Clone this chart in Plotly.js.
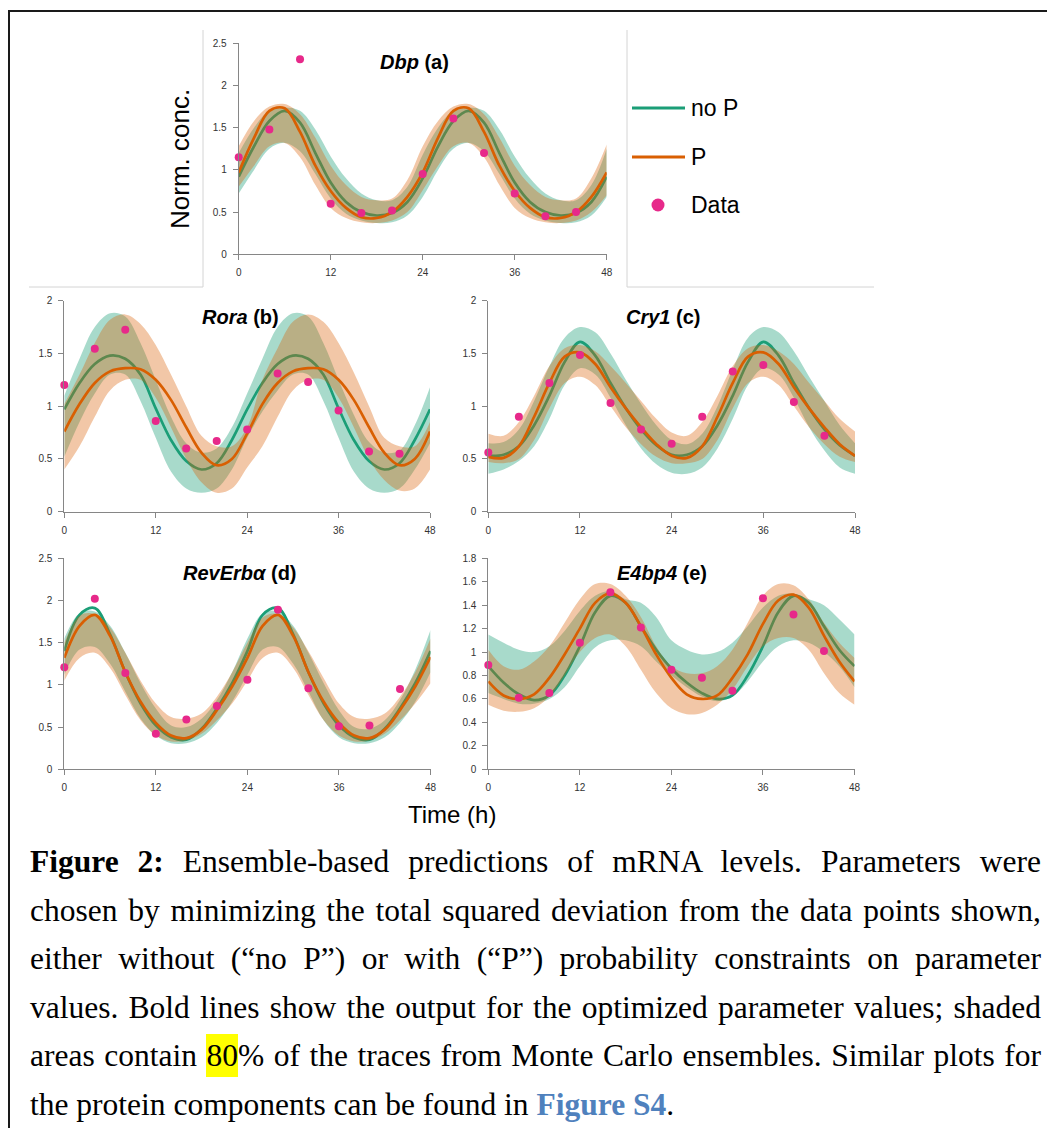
<!DOCTYPE html>
<html>
<head>
<meta charset="utf-8">
<script src="https://cdn.plot.ly/plotly-3.0.1.min.js"></script>
<style>
html,body{margin:0;padding:0;background:#fff;}
#chart{position:absolute;left:0;top:0;width:1047px;height:1128px;}
#cap{position:absolute;left:30px;top:838px;width:1011px;font-family:'Liberation Serif','Times New Roman',serif;font-size:31.5px;line-height:48.5px;color:#000;z-index:5;}
#cap .j{text-align:justify;text-align-last:justify;}
#cap .hl{background:#ffff00;padding:4px 0;}
#cap .lnk{color:#4f81bd;font-weight:bold;}
</style>
</head>
<body>
<div id="chart"></div>
<div id="cap">
<div class="j"><b>Figure 2:</b> Ensemble-based predictions of mRNA levels. Parameters were</div>
<div class="j">chosen by minimizing the total squared deviation from the data points shown,</div>
<div class="j">either without (“no P”) or with (“P”) probability constraints on parameter</div>
<div class="j">values. Bold lines show the output for the optimized parameter values; shaded</div>
<div class="j">areas contain <span class="hl">80</span>% of the traces from Monte Carlo ensembles. Similar plots for</div>
<div>the protein components can be found in <span class="lnk">Figure S4</span>.</div>
</div>
<script>
// ---------- data ----------
const T = [0,2,4,6,8,10,12,14,16,18,20,22,24,26,28,30,32,34,36,38,40,42,44,46,48];
const T_DATA = [0,4,8,12,16,20,24,28,32,36,40,44];
const X_TICKS = [0,12,24,36,48];

// Dbp (a)
const dbp_data = [1.15,1.48,2.31,0.60,0.49,0.52,0.95,1.61,1.20,0.72,0.45,0.50];
const dbp_noP = [0.92,1.28,1.58,1.70,1.56,1.20,0.85,0.62,0.50,0.46,0.49,0.62,0.90,1.28,1.58,1.70,1.56,1.20,0.85,0.62,0.50,0.46,0.49,0.62,0.92];
const dbp_P = [0.97,1.38,1.70,1.73,1.45,1.05,0.75,0.55,0.44,0.43,0.50,0.68,0.97,1.38,1.70,1.73,1.45,1.05,0.75,0.55,0.44,0.43,0.50,0.68,0.97];
const dbp_noP_hi = [1.20,1.50,1.70,1.74,1.70,1.48,1.16,0.90,0.72,0.64,0.64,0.80,1.18,1.50,1.70,1.74,1.70,1.48,1.16,0.90,0.72,0.64,0.64,0.82,1.25];
const dbp_noP_lo = [0.72,1.00,1.25,1.32,1.22,0.95,0.66,0.48,0.40,0.37,0.38,0.46,0.68,1.00,1.25,1.32,1.22,0.95,0.66,0.48,0.40,0.37,0.38,0.46,0.68];
const dbp_P_hi = [1.28,1.58,1.75,1.78,1.66,1.38,1.05,0.82,0.68,0.64,0.66,0.88,1.28,1.58,1.75,1.78,1.66,1.38,1.05,0.82,0.68,0.64,0.66,0.90,1.30];
const dbp_P_lo = [0.80,1.05,1.28,1.32,1.15,0.82,0.55,0.43,0.38,0.37,0.40,0.50,0.76,1.05,1.28,1.32,1.15,0.82,0.55,0.43,0.38,0.37,0.40,0.50,0.70];

// Rora (b)
const rora_data = [1.20,1.545,1.725,0.86,0.60,0.67,0.78,1.31,1.23,0.96,0.57,0.55];
const rora_noP = [0.97,1.22,1.40,1.48,1.45,1.30,0.98,0.68,0.48,0.40,0.46,0.68,0.97,1.22,1.40,1.48,1.45,1.30,0.98,0.68,0.48,0.40,0.46,0.68,0.97];
const rora_P = [0.76,1.02,1.22,1.33,1.36,1.35,1.25,1.06,0.80,0.56,0.44,0.50,0.74,1.02,1.22,1.33,1.36,1.35,1.25,1.06,0.80,0.56,0.44,0.50,0.76];
const rora_noP_hi = [1.10,1.45,1.75,1.88,1.85,1.60,1.25,0.90,0.65,0.56,0.60,0.80,1.12,1.45,1.75,1.88,1.85,1.60,1.25,0.92,0.66,0.56,0.58,0.82,1.18];
const rora_noP_lo = [0.52,0.85,1.12,1.30,1.30,1.05,0.70,0.38,0.22,0.18,0.22,0.40,0.70,0.95,1.15,1.30,1.30,1.05,0.70,0.38,0.22,0.18,0.22,0.40,0.65];
const rora_P_hi = [1.02,1.30,1.60,1.82,1.87,1.78,1.58,1.30,1.00,0.72,0.62,0.62,0.80,1.25,1.55,1.80,1.87,1.80,1.60,1.32,1.00,0.70,0.62,0.62,0.85];
const rora_P_lo = [0.40,0.62,0.90,1.15,1.25,1.25,1.08,0.80,0.50,0.28,0.18,0.22,0.42,0.62,0.90,1.15,1.25,1.25,1.08,0.80,0.50,0.30,0.20,0.22,0.40];

// Cry1 (c)
const cry_data = [0.56,0.90,1.22,1.485,1.03,0.78,0.645,0.90,1.33,1.39,1.04,0.72];
const cry_noP = [0.53,0.54,0.62,0.82,1.10,1.42,1.61,1.48,1.22,0.98,0.78,0.63,0.54,0.54,0.62,0.82,1.10,1.42,1.61,1.48,1.22,0.98,0.78,0.63,0.53];
const cry_P = [0.52,0.51,0.62,0.90,1.22,1.47,1.51,1.40,1.18,0.98,0.80,0.64,0.53,0.51,0.62,0.90,1.22,1.47,1.51,1.40,1.18,0.98,0.80,0.64,0.53];
const cry_noP_hi = [0.65,0.66,0.78,1.05,1.38,1.65,1.75,1.70,1.50,1.25,1.02,0.82,0.68,0.64,0.74,1.00,1.35,1.65,1.75,1.70,1.52,1.28,1.05,0.82,0.65];
const cry_noP_lo = [0.36,0.40,0.48,0.62,0.88,1.20,1.36,1.30,1.08,0.82,0.60,0.45,0.37,0.36,0.42,0.60,0.88,1.20,1.36,1.30,1.08,0.80,0.58,0.42,0.36];
const cry_P_hi = [0.74,0.72,0.85,1.10,1.38,1.55,1.58,1.52,1.38,1.22,1.05,0.88,0.75,0.72,0.85,1.10,1.38,1.55,1.58,1.52,1.40,1.22,1.05,0.88,0.76];
const cry_P_lo = [0.47,0.46,0.50,0.68,0.98,1.22,1.28,1.20,1.00,0.80,0.64,0.52,0.46,0.46,0.50,0.68,0.98,1.22,1.28,1.20,1.00,0.80,0.64,0.52,0.47];

// RevErbα (d)
const rev_data = [1.21,2.02,1.14,0.42,0.59,0.75,1.06,1.89,0.96,0.51,0.52,0.95];
const rev_noP = [1.40,1.83,1.91,1.60,1.15,0.78,0.52,0.38,0.35,0.48,0.72,1.02,1.40,1.83,1.91,1.60,1.15,0.78,0.52,0.38,0.35,0.48,0.72,1.02,1.40];
const rev_P = [1.32,1.70,1.83,1.58,1.15,0.80,0.55,0.40,0.37,0.47,0.70,0.98,1.32,1.70,1.83,1.58,1.15,0.80,0.55,0.40,0.37,0.47,0.70,0.98,1.33];
const rev_noP_hi = [1.55,1.85,1.87,1.70,1.38,1.02,0.72,0.52,0.50,0.60,0.82,1.15,1.55,1.85,1.87,1.70,1.38,1.02,0.70,0.50,0.48,0.58,0.82,1.18,1.65];
const rev_noP_lo = [1.12,1.42,1.45,1.25,0.92,0.60,0.40,0.31,0.31,0.38,0.55,0.80,1.12,1.42,1.45,1.25,0.92,0.58,0.38,0.31,0.31,0.38,0.55,0.80,1.15];
const rev_P_hi = [1.50,1.82,1.84,1.68,1.38,1.05,0.78,0.62,0.60,0.66,0.86,1.15,1.50,1.80,1.84,1.68,1.40,1.08,0.78,0.62,0.60,0.66,0.86,1.15,1.55];
const rev_P_lo = [1.05,1.32,1.38,1.20,0.88,0.58,0.40,0.33,0.34,0.42,0.58,0.78,1.05,1.32,1.38,1.20,0.88,0.58,0.40,0.33,0.34,0.42,0.58,0.78,1.02];

// E4bp4 (e)
const e4_data = [0.89,0.61,0.65,1.08,1.51,1.21,0.85,0.78,0.67,1.46,1.32,1.01];
const e4_noP = [0.88,0.74,0.64,0.59,0.63,0.80,1.05,1.34,1.48,1.42,1.22,1.02,0.86,0.74,0.65,0.60,0.63,0.80,1.05,1.34,1.48,1.42,1.22,1.02,0.88];
const e4_P = [0.75,0.63,0.60,0.64,0.78,0.98,1.20,1.42,1.50,1.42,1.22,0.98,0.78,0.64,0.60,0.63,0.78,0.98,1.24,1.44,1.49,1.38,1.14,0.92,0.75];
const e4_noP_hi = [1.15,1.08,1.02,1.00,1.05,1.18,1.35,1.48,1.52,1.45,1.42,1.30,1.10,1.02,0.98,1.00,1.08,1.22,1.38,1.48,1.50,1.45,1.40,1.28,1.15];
const e4_noP_lo = [0.65,0.60,0.56,0.56,0.60,0.70,0.88,1.04,1.10,1.10,1.05,0.92,0.80,0.70,0.62,0.58,0.62,0.75,0.92,1.05,1.10,1.08,1.00,0.88,0.70];
const e4_P_hi = [1.02,0.88,0.85,0.92,1.05,1.25,1.45,1.58,1.58,1.48,1.30,1.05,0.88,0.82,0.82,0.88,1.02,1.25,1.48,1.58,1.57,1.45,1.25,1.08,0.95];
const e4_P_lo = [0.55,0.50,0.49,0.52,0.62,0.80,1.00,1.12,1.15,1.05,0.85,0.65,0.52,0.47,0.48,0.55,0.68,0.88,1.05,1.12,1.12,1.02,0.82,0.65,0.55];

// ---------- layout helpers ----------
const W = 1047, H = 1128;
const X = p => p / W;
const Y = p => 1 - p / H;

const GREEN = '#1b9e77', ORANGE = '#d95f02', PINK = '#e7298a';
const GREEN_FILL = 'rgba(27,158,119,0.38)';
const ORANGE_FILL = 'rgba(217,95,2,0.35)';
const AXC = '#868686';
const FONT = 'Liberation Sans, Arial, sans-serif';

const panels = [
  {id:'',  title:'<b><i>Dbp</i> (a)</b>',     data:dbp_data,  noP:dbp_noP,  P:dbp_P,  nlo:dbp_noP_lo,  nhi:dbp_noP_hi,  plo:dbp_P_lo,  phi:dbp_P_hi,  ymax:2.5, dtick:0.5, xd:[238.7,606.7], yd:[43.3,254.3], tx:414, ty:62},
  {id:'2', title:'<b><i>Rora</i> (b)</b>',    data:rora_data, noP:rora_noP, P:rora_P, nlo:rora_noP_lo, nhi:rora_noP_hi, plo:rora_P_lo, phi:rora_P_hi, ymax:2,   dtick:0.5, xd:[64.3,430],    yd:[300.7,511.7], tx:240, ty:317},
  {id:'3', title:'<b><i>Cry1</i> (c)</b>',    data:cry_data,  noP:cry_noP,  P:cry_P,  nlo:cry_noP_lo,  nhi:cry_noP_hi,  plo:cry_P_lo,  phi:cry_P_hi,  ymax:2,   dtick:0.5, xd:[488.3,855],   yd:[300.7,511.7], tx:663, ty:317},
  {id:'4', title:'<b><i>RevErbα</i> (d)</b>', data:rev_data,  noP:rev_noP,  P:rev_P,  nlo:rev_noP_lo,  nhi:rev_noP_hi,  plo:rev_P_lo,  phi:rev_P_hi,  ymax:2.5, dtick:0.5, xd:[64.3,430.5],  yd:[558.3,769.3], tx:240, ty:573},
  {id:'5', title:'<b><i>E4bp4</i> (e)</b>',   data:e4_data,   noP:e4_noP,   P:e4_P,   nlo:e4_noP_lo,   nhi:e4_noP_hi,   plo:e4_P_lo,   phi:e4_P_hi,   ymax:1.8, dtick:0.2, xd:[488.3,854.5], yd:[558.3,769.3], tx:662, ty:573}
];

const traces = [];
const layout = {
  width: W, height: H,
  margin: {l:0, r:0, t:0, b:0},
  paper_bgcolor: '#fff', plot_bgcolor: 'rgba(0,0,0,0)',
  showlegend: false,
  font: {family: FONT, color: '#000'},
  annotations: [], shapes: []
};

panels.forEach(p => {
  const xa = 'x' + p.id, ya = 'y' + p.id;
  const base = {x: T, xaxis: xa, yaxis: ya, mode: 'lines', hoverinfo: 'skip'};
  // green band
  traces.push(Object.assign({}, base, {y: p.nlo, line: {width: 0, shape: 'spline', color: GREEN_FILL}}));
  traces.push(Object.assign({}, base, {y: p.nhi, fill: 'tonexty', fillcolor: GREEN_FILL, line: {width: 0, shape: 'spline', color: GREEN_FILL}}));
  // green line
  traces.push(Object.assign({}, base, {y: p.noP, name: 'no P', line: {width: 2.7, shape: 'spline', color: GREEN}}));
  // orange band
  traces.push(Object.assign({}, base, {y: p.plo, line: {width: 0, shape: 'spline', color: ORANGE_FILL}}));
  traces.push(Object.assign({}, base, {y: p.phi, fill: 'tonexty', fillcolor: ORANGE_FILL, line: {width: 0, shape: 'spline', color: ORANGE_FILL}}));
  // orange line
  traces.push(Object.assign({}, base, {y: p.P, name: 'P', line: {width: 2.7, shape: 'spline', color: ORANGE}}));
  // data
  traces.push({x: T_DATA, y: p.data, xaxis: xa, yaxis: ya, mode: 'markers', name: 'Data', cliponaxis: false,
               hoverinfo: 'skip', marker: {size: 8, color: PINK}});

  const common = {showline: true, linecolor: AXC, linewidth: 1, ticks: 'outside', ticklen: 5, tickcolor: AXC,
                  tickwidth: 1, showgrid: false, zeroline: false, fixedrange: true,
                  tickfont: {family: FONT, size: 10, color: '#333'}};
  layout['xaxis' + p.id] = Object.assign({}, common, {
    domain: [X(p.xd[0]), X(p.xd[1])], range: [0, 48], tickvals: X_TICKS, anchor: ya, ticklabelstandoff: 4
  });
  layout['yaxis' + p.id] = Object.assign({}, common, {
    domain: [Y(p.yd[1]), Y(p.yd[0])], range: [0, p.ymax], tick0: 0, dtick: p.dtick, anchor: xa, ticklabelstandoff: 4
  });
  layout.annotations.push({text: p.title, xref: 'paper', yref: 'paper', x: X(p.tx), y: Y(p.ty),
    xanchor: 'center', yanchor: 'middle', showarrow: false, font: {family: FONT, size: 20, color: '#000'}});
});

// axis titles
layout.annotations.push({text: 'Norm. conc.', xref: 'paper', yref: 'paper', x: X(180), y: Y(159), textangle: -90,
  xanchor: 'center', yanchor: 'middle', showarrow: false, font: {family: FONT, size: 26, color: '#000'}});
layout.annotations.push({text: 'Time (h)', xref: 'paper', yref: 'paper', x: X(452), y: Y(815),
  xanchor: 'center', yanchor: 'middle', showarrow: false, font: {family: FONT, size: 24, color: '#000'}});

// legend (drawn beside panel a)
const legendItems = [
  {label: 'no P', kind: 'line', color: GREEN, y: 108},
  {label: 'P', kind: 'line', color: ORANGE, y: 157},
  {label: 'Data', kind: 'dot', color: PINK, y: 205}
];
legendItems.forEach(it => {
  if (it.kind === 'line') {
    layout.shapes.push({type: 'line', xref: 'paper', yref: 'paper', x0: X(632), x1: X(685), y0: Y(it.y), y1: Y(it.y),
      line: {color: it.color, width: 3}});
  } else {
    layout.shapes.push({type: 'circle', xref: 'paper', yref: 'paper', x0: X(651.5), x1: X(664.5), y0: Y(it.y + 6.5), y1: Y(it.y - 6.5),
      fillcolor: it.color, line: {width: 0}});
  }
  layout.annotations.push({text: it.label, xref: 'paper', yref: 'paper', x: X(689), y: Y(it.y),
    xanchor: 'left', yanchor: 'middle', showarrow: false, font: {family: FONT, size: 23, color: '#000'}});
});

// frame lines
const frameGray = {color: '#d4d4d4', width: 1};
[[29,287,203,287],[203,30,203,287],[627,30,627,287],[627,287,874,287]].forEach(s => {
  layout.shapes.push({type: 'line', xref: 'paper', yref: 'paper', x0: X(s[0]), y0: Y(s[1]), x1: X(s[2]), y1: Y(s[3]), line: frameGray});
});
// outer border (left and top)
layout.shapes.push({type: 'line', xref: 'paper', yref: 'paper', x0: X(9), x1: X(9), y0: Y(10), y1: Y(1128), line: {color: '#1a1a1a', width: 2}});
layout.shapes.push({type: 'line', xref: 'paper', yref: 'paper', x0: X(8), x1: X(1047), y0: Y(11), y1: Y(11), line: {color: '#1a1a1a', width: 2}});

Plotly.newPlot('chart', traces, layout, {staticPlot: true, displayModeBar: false});
</script>
</body>
</html>
